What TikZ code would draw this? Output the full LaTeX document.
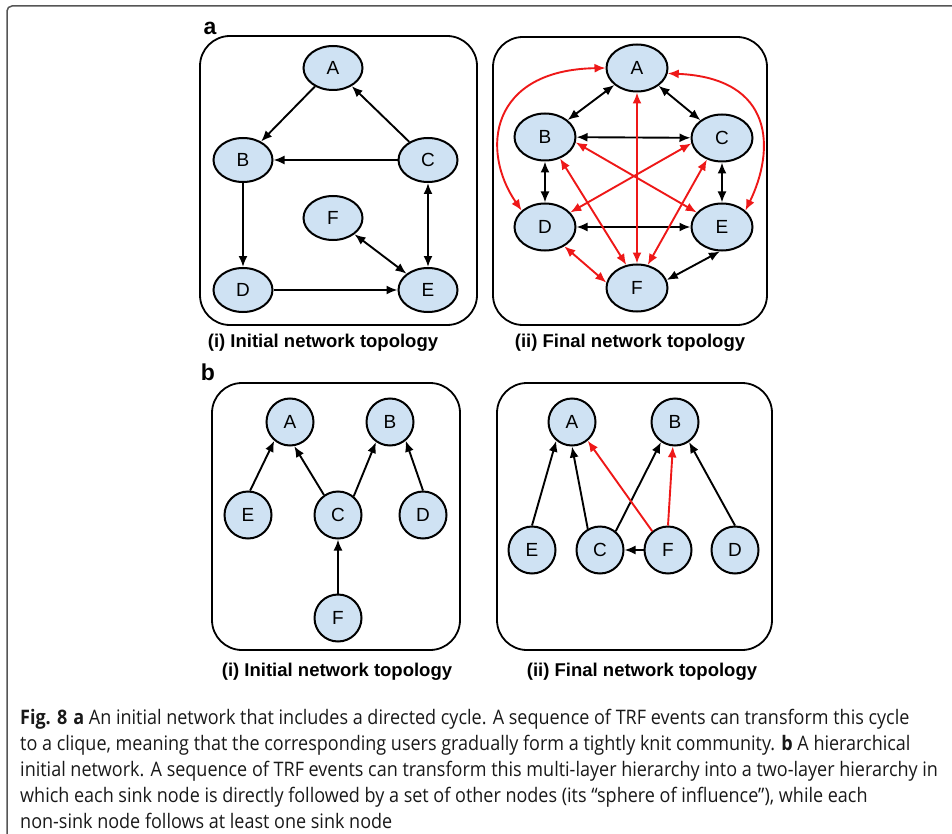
\documentclass[tikz,border=0pt]{standalone}
\usepackage{fontspec}
\setmainfont{Liberation Sans}
\newfontfamily\capfont[FakeStretch=0.9]{Open Sans}
\usetikzlibrary{arrows.meta, shapes.geometric}
\definecolor{nodeblue}{RGB}{207,226,243}
\definecolor{edgered}{RGB}{238,24,24}
\definecolor{framegray}{RGB}{85,85,85}
\tikzset{%
	user/.style={draw, ellipse, line width=2pt, fill=nodeblue, minimum width=59pt, minimum height=44pt,%
		inner sep=0pt, font=\fontsize{19}{19}\selectfont},
	bigger/.style={minimum width=61pt, minimum height=47pt},
	round/.style={draw, circle, line width=2pt, fill=nodeblue, minimum size=47pt, inner sep=0pt,%
		font=\fontsize{19}{19}\selectfont},
	panel/.style={draw, line width=1.8pt, rounded corners=30pt},
	tag/.style={font=\bfseries\fontsize{23}{23}\selectfont, inner sep=0pt},
	title/.style={font=\bfseries\fontsize{18.5}{20}\selectfont, inner sep=0pt},
	follow/.style={-{Latex[length=11pt,width=9pt]}, line width=1.9pt},
	mutual/.style={{Latex[length=11pt,width=9pt]}-{Latex[length=11pt,width=9pt]}, line width=1.9pt},
	added/.style={color=edgered}
}
\begin{document}
\begin{tikzpicture}[x=1pt, y=-1pt]
	\useasboundingbox (0,0) rectangle (952,834);
	\draw[framegray, line width=1.5pt, rounded corners=5pt] (7,850) -- (7,6) -- (970,6);

	\node[tag] (taga) at (210,28) {a};
	\node[tag] (tagb) at (208,372) {b};

	\draw[panel] (200,36) rectangle (477,325);
	\draw[panel] (493,37) rectangle (767,325);
	\draw[panel] (212,383) rectangle (460,650);
	\draw[panel] (497,383) rectangle (772,650);

	\node[title] (ta1) at (323,343) {(i) Initial network topology};
	\node[title] (ta2) at (630,343) {(ii) Final network topology};
	\node[title] (tb1) at (337,672) {(i) Initial network topology};
	\node[title] (tb2) at (642,672) {(ii) Final network topology};

	% a (i)
	\node[user] (a1A) at (333,68) {A};
	\node[user] (a1B) at (243,160) {B};
	\node[user] (a1C) at (428,160) {C};
	\node[user] (a1F) at (333,218) {F};
	\node[user] (a1D) at (243,290) {D};
	\node[user] (a1E) at (428,290) {E};

	\draw[follow] (a1A) -- (a1B);
	\draw[follow] (a1C) -- (a1A);
	\draw[follow] (a1C) -- (a1B);
	\draw[follow] (a1B) -- (a1D);
	\draw[follow] (a1D) -- (a1E);
	\draw[mutual] (a1C) -- (a1E);
	\draw[mutual] (a1F) -- (a1E);

	% a (ii)
	\node[user, bigger] (a2A) at (637,68) {A};
	\node[user, bigger] (a2B) at (545,137) {B};
	\node[user, bigger] (a2C) at (722,138) {C};
	\node[user, bigger] (a2D) at (545,227) {D};
	\node[user, bigger] (a2E) at (722,227) {E};
	\node[user, bigger] (a2F) at (637,288) {F};

	\draw[mutual] (a2A) -- (a2B);
	\draw[mutual] (a2A) -- (a2C);
	\draw[mutual] (a2B) -- (a2C);
	\draw[mutual] (a2B) -- (a2D);
	\draw[mutual] (a2C) -- (a2E);
	\draw[mutual] (a2D) -- (a2E);
	\draw[mutual] (a2E.265) -- (a2F.15);
	\draw[mutual, added] (a2A) -- (a2F);
	\draw[mutual, added] (a2B.-10) -- (a2E.150);
	\draw[mutual, added] (a2C.190) -- (a2D.30);
	\draw[mutual, added] (a2B.-55) -- (a2F.115);
	\draw[mutual, added] (a2C.235) -- (a2F.65);
	\draw[mutual, added] (a2D.-45) -- (a2F.170);
	\draw[mutual, added] (a2A.west) .. controls (490,70) and (480,150) .. (a2D.145);
	\draw[mutual, added] (a2A.-10) .. controls (775,78) and (775,150) .. (a2E.35);

	% b (i)
	\node[round] (b1A) at (290,422) {A};
	\node[round] (b1B) at (390,422) {B};
	\node[round] (b1E) at (248,515) {E};
	\node[round] (b1C) at (338,515) {C};
	\node[round] (b1D) at (423,515) {D};
	\node[round] (b1F) at (338,618) {F};

	\draw[follow] (b1E.85) -- (b1A.230);
	\draw[follow] (b1C.125) -- (b1A.-80);
	\draw[follow] (b1C.50) -- (b1B.235);
	\draw[follow] (b1D.north) -- (b1B.-50);
	\draw[follow] (b1F) -- (b1C);

	% b (ii)
	\node[round] (b2A) at (572,422) {A};
	\node[round] (b2B) at (675,422) {B};
	\node[round] (b2E) at (532,550) {E};
	\node[round] (b2C) at (600,550) {C};
	\node[round] (b2F) at (668,550) {F};
	\node[round] (b2D) at (735,550) {D};

	\draw[follow] (b2E.north) -- (b2A.230);
	\draw[follow] (b2C.120) -- (b2A.south);
	\draw[follow] (b2C.50) -- (b2B.235);
	\draw[follow] (b2D.north) -- (b2B.-55);
	\draw[follow] (b2F) -- (b2C);
	\draw[follow, added] (b2F.130) -- (b2A.-50);
	\draw[follow, added] (b2F.north) -- (b2B.-95);

	\node[anchor=north west, align=left, inner sep=0pt, text=black!90,%
		font=\capfont\fontsize{20}{26}\selectfont] (caption) at (20,709)
		{\textbf{Fig. 8}\hspace{6pt}\textbf{a} An initial network that includes a directed cycle. A sequence of TRF events can transform this cycle\\
		to a clique, meaning that the corresponding users gradually form a tightly knit community. \textbf{b} A hierarchical\\
		initial network. A sequence of TRF events can transform this multi-layer hierarchy into a two-layer hierarchy in\\
		which each sink node is directly followed by a set of other nodes (its “sphere of influence”), while each\\
		non-sink node follows at least one sink node};
\end{tikzpicture}
\end{document}
